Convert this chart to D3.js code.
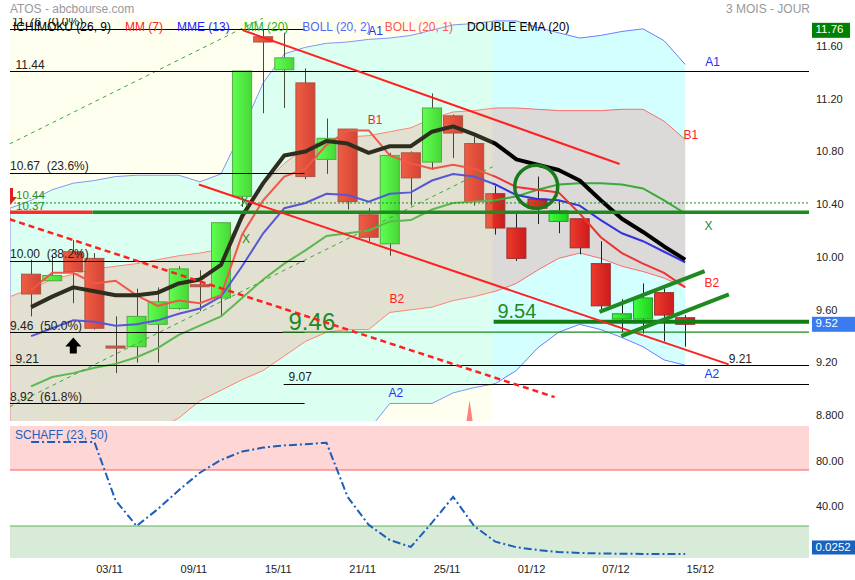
<!DOCTYPE html>
<html><head><meta charset="utf-8">
<script src="https://cdn.jsdelivr.net/npm/d3@7"></script>
<style>body{margin:0;background:#fff}svg{display:block;font-family:"Liberation Sans",Arial,sans-serif}</style>
</head><body><svg id="c" width="855" height="580"></svg>
<script>
// ---------- DATA ----------
const open  = [9.90,9.85,10.07,10.02,9.355,9.35,9.52,9.64,9.82,9.72,10.49,11.70,11.45,11.35,10.77,11.00,10.35,10.13,10.82,10.75,11.10,10.89,10.51,10.25,10.47,10.30,10.32,9.98,9.56,9.56,9.76,9.57];
const high  = [10.01,10.05,10.16,10.06,9.58,9.79,9.80,9.96,9.93,10.29,11.44,11.76,11.73,11.46,11.08,11.00,10.40,10.82,10.83,11.27,11.11,10.94,10.57,10.36,10.64,10.46,10.32,10.15,9.71,9.83,9.79,9.59];
const low   = [9.58,9.85,9.68,9.48,9.15,9.23,9.23,9.63,9.62,9.59,10.41,11.12,11.16,10.62,10.66,10.39,10.15,10.04,10.42,10.69,10.78,10.42,10.20,10.00,10.28,10.21,10.05,9.63,9.46,9.45,9.39,9.35];
const close = [9.75,9.89,9.92,9.49,9.35,9.58,9.69,9.94,9.805,10.29,11.44,11.66,11.54,10.64,10.93,10.45,10.18,10.80,10.63,11.16,10.97,10.45,10.25,10.02,10.40,10.38,10.10,9.66,9.60,9.72,9.59,9.52];
const mm7   = [9.78,9.91,9.91,9.83,9.85,9.74,9.66,9.70,9.68,9.74,10.20,10.46,10.64,10.70,10.88,10.99,10.99,10.80,10.74,10.70,10.73,10.70,10.64,10.56,10.54,10.52,10.36,10.18,10.06,9.98,9.91,9.80];
const mme13 = [9.43,9.49,9.55,9.54,9.51,9.52,9.55,9.60,9.64,9.73,9.96,10.21,10.40,10.44,10.51,10.50,10.45,10.51,10.52,10.61,10.66,10.64,10.58,10.50,10.47,10.46,10.42,10.31,10.21,10.15,10.07,9.99];
const mm20  = [9.05,9.12,9.15,9.19,9.22,9.27,9.34,9.44,9.51,9.58,9.72,9.86,9.98,10.08,10.19,10.21,10.23,10.30,10.31,10.39,10.44,10.45,10.46,10.49,10.54,10.58,10.59,10.59,10.58,10.55,10.46,10.36];
const dema20= [9.65,9.73,9.80,9.77,9.74,9.74,9.76,9.83,9.86,9.97,10.34,10.59,10.80,10.83,10.91,10.89,10.82,10.87,10.87,10.98,11.02,10.96,10.89,10.77,10.73,10.69,10.61,10.46,10.32,10.22,10.11,10.01];
// Bollinger bands: first value is the session before the first visible candle
const bollA1 = [10.40,10.46,10.54,10.59,10.61,10.64,10.65,10.65,10.65,10.60,10.66,10.99,11.35,11.57,11.62,11.65,11.66,11.68,11.69,11.71,11.75,11.79,11.80,11.82,11.82,11.77,11.73,11.69,11.71,11.74,11.76,11.67,11.49];
const bollA2 = [7.88,7.90,7.92,7.96,8.00,7.98,8.03,8.07,8.19,8.38,8.49,8.49,8.48,8.55,8.57,8.60,8.64,8.72,8.92,8.92,8.92,9.00,9.04,9.07,9.17,9.34,9.46,9.52,9.48,9.42,9.35,9.25,9.21];
const bollB1 = [9.73,9.79,9.86,9.90,9.94,9.96,9.98,10.01,10.04,10.06,10.09,10.31,10.58,10.74,10.86,10.92,10.94,10.95,10.98,11.01,11.08,11.13,11.14,11.16,11.16,11.15,11.14,11.14,11.14,11.15,11.15,11.06,10.92];
const bollB2 = [8.49,8.53,8.57,8.60,8.64,8.64,8.68,8.72,8.81,8.94,9.02,9.10,9.17,9.28,9.39,9.46,9.48,9.48,9.61,9.63,9.65,9.70,9.73,9.77,9.83,9.93,10.02,10.06,10.02,9.96,9.92,9.87,9.80];
const schaff = [100,100,100,100,48,25,40,57,72.6,84,91.5,95,97,98,99.4,51,26,12.5,6.3,28,51,25,11,6,3.6,1.8,0.9,0.5,0.2,0.1,0.05,0.0252];

const dateLabels = ["03/11","09/11","15/11","21/11","25/11","01/12","07/12","15/12"];
const dateIdx    = [4,8,12,16,20,24,28,32];
const priceTicks = [11.6,11.2,10.8,10.4,10.0,9.6,9.2,8.8];
const priceTickLabels = ["11.60","11.20","10.80","10.40","10.00","9.60","9.20","8.800"];
const schaffTicks = [80,40];
const schaffTickLabels = ["80.00","40.00"];
const schaffBands = [75,25];

const fibLevels = [11.76,10.67,10.00,9.46,8.92];
const fibPcts   = ["0.0%","23.6%","38.2%","50.0%","61.8%"];
const blackLevels = [11.44,9.21];
const supportLevel = 9.07;
const dottedLevel = 10.44;
const thickLevel = 10.37;
const greenThick = 9.54;
const greenThin = 9.46;
// trend lines: [startIndex, startPrice, endIndex, endPrice]
const redTrends = [[7.95,10.58,33.06,9.216],[10.02,11.75,27.89,10.735]];
const redDashed = [[-1.02,10.316,24.81,8.968]];
const greenDashed = [[-1.02,10.887,10.99,11.842],[-1.02,8.895,21.87,10.714]];
const greenTrends = [[26.94,9.615,31.92,9.924],[27.97,9.431,33.07,9.747]];
const circleAt = [23.94,10.563];
const ichimokuEnd = 21.87;
// band labels: [index, price, text]
const bandLabels = [[15.98,11.713,"A1"],[31.95,11.478,"A1"],[15.95,11.038,"B1"],[30.92,10.924,"B1"],
  [16.99,9.681,"B2"],[31.92,9.802,"B2"],[16.94,8.968,"A2"],[31.92,9.112,"A2"],
  [31.92,10.234,"X"],[9.99,10.136,"X"],[9.91,10.416,"X"]];
const legendNames = ["ICHIMOKU (26, 9)","MM (7)","MME (13)","MM (20)","BOLL (20, 2)","BOLL (20, 1)","DOUBLE EMA (20)"];

// ---------- SCALES ----------
const L=10, R=809, T=18, B=421, ST=426, SB=558;
const x = d3.scaleLinear().domain([-1,31]).range([10,685.2]);
const y = d3.scaleLinear().domain([8.787,11.842]).range([B,T]);
const ys = d3.scaleLinear().domain([-3.57,114.3]).range([SB,ST]);

const svg = d3.select('#c');
const defs = svg.append('defs');
defs.append('clipPath').attr('id','cm').append('rect').attr('x',L).attr('y',T).attr('width',R-L).attr('height',B-T);
defs.append('clipPath').attr('id','cs').append('rect').attr('x',L).attr('y',ST).attr('width',R-L).attr('height',SB-ST);
function grad(id,a,b){const g=defs.append('linearGradient').attr('id',id).attr('x1',0).attr('x2',1).attr('y1',0).attr('y2',0);
 g.append('stop').attr('offset',0).attr('stop-color',a);g.append('stop').attr('offset',1).attr('stop-color',b);}
grad('gUp','#3cff3c','#1fcf1f');grad('gDn','#ec3a2c','#cc1c1c');

// title
svg.append('text').attr('x',10).attr('y',13).attr('font-size',12).attr('fill','#999').text('ATOS - abcbourse.com');
svg.append('text').attr('x',810).attr('y',13).attr('text-anchor','end').attr('font-size',12).attr('fill','#999').text('3 MOIS - JOUR');

const main = svg.append('g').attr('clip-path','url(#cm)');
const bi = d3.range(-1,32);
const area = (a,b)=>d3.area().x((d,i)=>x(i-1)).y0((d,i)=>y(a[i])).y1((d,i)=>y(b[i]));
main.append('path').datum(bi).attr('d',area(bollA2,bollA1)).attr('fill','#d4ffff');
main.append('path').datum(bi).attr('d',area(bollB2,bollB1)).attr('fill','#dcd9d9');
const bline = arr=>d3.line().x((d,i)=>x(i-1)).y(d=>y(d))(arr);
main.append('path').attr('d',bline(bollA1)).attr('fill','none').attr('stroke','#6f7cff').attr('stroke-width',1);
main.append('path').attr('d',bline(bollA2)).attr('fill','none').attr('stroke','#6f7cff').attr('stroke-width',1);
main.append('path').attr('d',bline(bollB1)).attr('fill','none').attr('stroke','#ff6a6a').attr('stroke-width',1);
main.append('path').attr('d',bline(bollB2)).attr('fill','none').attr('stroke','#ff6a6a').attr('stroke-width',1);
main.append('line').attr('x1',x(-1)+0.5).attr('x2',x(-1)+0.5).attr('y1',y(bollA1[0])).attr('y2',y(bollB1[0])).attr('stroke','#aab4ff');
main.append('line').attr('x1',x(-1)+0.5).attr('x2',x(-1)+0.5).attr('y1',y(bollB1[0])).attr('y2',B).attr('stroke','#e6a0b4');

// candles
const ci = d3.range(32);
const cg = main.append('g');
ci.forEach(i=>{
  const up = close[i]>=open[i];
  cg.append('line').attr('x1',Math.round(x(i))+0.5).attr('x2',Math.round(x(i))+0.5).attr('y1',y(high[i])).attr('y2',y(low[i])).attr('stroke','#222').attr('stroke-width',1);
  const top=y(Math.max(open[i],close[i])), h=Math.max(2,Math.abs(y(open[i])-y(close[i])));
  cg.append('rect').attr('x',x(i)-9.5).attr('width',19).attr('y',top).attr('height',h)
    .attr('fill',up?'url(#gUp)':'url(#gDn)').attr('stroke',up?'#2b9a2b':'#9a2e2e').attr('stroke-width',1);
});
// moving averages
const ml = arr=>d3.line().x((d,i)=>x(i)).y(d=>y(d))(arr);
main.append('path').attr('d',ml(mm20)).attr('fill','none').attr('stroke','#3aaa3a').attr('stroke-width',2);
main.append('path').attr('d',ml(mme13)).attr('fill','none').attr('stroke','#3333dd').attr('stroke-width',2);
main.append('path').attr('d',ml(mm7)).attr('fill','none').attr('stroke','#ee3333').attr('stroke-width',2);
main.append('path').attr('d',ml(dema20)).attr('fill','none').attr('stroke','#000').attr('stroke-width',4).attr('stroke-linejoin','round');
// ichimoku tint
main.append('rect').attr('x',L).attr('y',T).attr('width',x(ichimokuEnd)-L).attr('height',B-T).attr('fill','#ffffaa').attr('opacity',0.18);
// dashed green channel
greenDashed.forEach(t=>main.append('line').attr('x1',x(t[0])).attr('y1',y(t[1])).attr('x2',x(t[2])).attr('y2',y(t[3])).attr('stroke','#3aa83a').attr('stroke-width',1).attr('stroke-dasharray','4,4'));

// horizontal levels
const fibEnd = x(12.96);
fibLevels.forEach((v,k)=>{
  main.append('line').attr('x1',L).attr('x2',fibEnd).attr('y1',Math.round(y(v))+0.5).attr('y2',Math.round(y(v))+0.5).attr('stroke','#000');
  main.append('text').attr('x',k==0?12:10).attr('y',y(v)-2.5).attr('font-size',12).attr('fill','#222').style('white-space','pre').text(v.toFixed(2)+'  ('+fibPcts[k]+')');
});
blackLevels.forEach(v=>{
  main.append('line').attr('x1',L).attr('x2',R).attr('y1',Math.round(y(v))+0.5).attr('y2',Math.round(y(v))+0.5).attr('stroke','#000');
  main.append('text').attr('x',15.5).attr('y',y(v)-2.5).attr('font-size',12).attr('fill','#222').text(v.toFixed(2));
});
main.append('line').attr('x1',x(11.97)).attr('x2',R).attr('y1',Math.round(y(supportLevel))+0.5).attr('y2',Math.round(y(supportLevel))+0.5).attr('stroke','#000');
main.append('text').attr('x',x(12.2)).attr('y',y(supportLevel)-2.5).attr('font-size',12).attr('fill','#222').text(supportLevel.toFixed(2));
main.append('line').attr('x1',L).attr('x2',R).attr('y1',y(dottedLevel)).attr('y2',y(dottedLevel)).attr('stroke','#1f8a1f').attr('stroke-dasharray','2,2');
main.append('text').attr('x',16).attr('y',y(dottedLevel)-4).attr('font-size',11.5).attr('fill','#2a8a2a').text(dottedLevel.toFixed(2));
main.append('text').attr('x',16).attr('y',y(thickLevel)-2.5).attr('font-size',11.5).attr('fill','#2a8a2a').text(thickLevel.toFixed(2));
main.append('line').attr('x1',L).attr('x2',x(2.91)).attr('y1',y(thickLevel)).attr('y2',y(thickLevel)).attr('stroke','#ff2a2a').attr('stroke-width',3.5);
main.append('line').attr('x1',x(2.91)).attr('x2',R).attr('y1',y(thickLevel)).attr('y2',y(thickLevel)).attr('stroke','#1f8a1f').attr('stroke-width',3.5);
main.append('line').attr('x1',x(11.92)).attr('x2',R).attr('y1',y(greenThin)).attr('y2',y(greenThin)).attr('stroke','#1a8a1a').attr('stroke-width',1.2);
main.append('text').attr('x',x(12.2)).attr('y',y(greenThin)-2).attr('font-size',24).attr('fill','#1f8a1f').text(greenThin.toFixed(2));
main.append('line').attr('x1',x(21.92)).attr('x2',R).attr('y1',y(greenThick)).attr('y2',y(greenThick)).attr('stroke','#127d12').attr('stroke-width',4);
main.append('text').attr('x',x(22.1)).attr('y',y(greenThick)-3.5).attr('font-size',20).attr('fill','#1f8a1f').text(greenThick.toFixed(2));
main.append('text').attr('x',x(33.06)).attr('y',y(blackLevels[1])-2.5).attr('font-size',12).attr('fill','#222').text(blackLevels[1].toFixed(2));

// trend lines
redTrends.forEach(t=>main.append('line').attr('x1',x(t[0])).attr('y1',y(t[1])).attr('x2',x(t[2])).attr('y2',y(t[3])).attr('stroke','#ff2020').attr('stroke-width',2));
redDashed.forEach(t=>main.append('line').attr('x1',x(t[0])).attr('y1',y(t[1])).attr('x2',x(t[2])).attr('y2',y(t[3])).attr('stroke','#ff2020').attr('stroke-width',2.5).attr('stroke-dasharray','6,4'));
greenTrends.forEach(t=>main.append('line').attr('x1',x(t[0])).attr('y1',y(t[1])).attr('x2',x(t[2])).attr('y2',y(t[3])).attr('stroke','#1f8a1f').attr('stroke-width',4));
main.append('circle').attr('cx',x(circleAt[0])).attr('cy',y(circleAt[1])).attr('r',21.5).attr('fill','none').attr('stroke','#1a7a1a').attr('stroke-width',3.5);
// band labels
bandLabels.forEach(b=>{
  const c = b[2][0]=='A'?'#2233ee':(b[2][0]=='B'?'#ff2222':'#2a8a2a');
  main.append('text').attr('x',x(b[0])).attr('y',y(b[1])).attr('font-size',12).attr('fill',c).text(b[2]);
});
// arrows
{const cx=x(2), ty=y(9.42);
 main.append('path').attr('d',`M${cx},${ty} L${cx+8},${ty+9} L${cx+3.5},${ty+9} L${cx+3.5},${ty+16} L${cx-3.5},${ty+16} L${cx-3.5},${ty+9} L${cx-8},${ty+9} Z`).attr('fill','#000');}
{const cx=x(-1), ty=y(10.553);
 main.append('path').attr('d',`M${cx-3},${ty} L${cx+3},${ty} L${cx+3},${ty+9} L${cx+7},${ty+9} L${cx},${ty+17} L${cx-7},${ty+9} L${cx-3},${ty+9} Z`).attr('fill','#e02020');}
{const cx=x(20.78), ty=y(8.946);
 main.append('path').attr('d',`M${cx},${ty} L${cx+3},${B} L${cx-3},${B} Z`).attr('fill','#ff8080');}

// legend
{let lx=13; const cols=['#000','#ff2222','#2222ff','#22b022','#5566ff','#ff5555','#000'];
 legendNames.forEach((n,k)=>{const t=svg.append('text').attr('x',lx).attr('y',31).attr('font-size',12).attr('fill',cols[k]).text(n);
  lx += t.node().getComputedTextLength()+14;});}

// right axis
priceTicks.forEach((v,k)=>svg.append('text').attr('x',816).attr('y',y(v)-3).attr('dominant-baseline','middle').attr('font-size',11).attr('fill','#222').text(priceTickLabels[k]));
function box(yc,txt,fill,w){svg.append('rect').attr('x',812).attr('y',yc-7.5).attr('width',w).attr('height',15).attr('fill',fill);
 svg.append('text').attr('x',815.5).attr('y',yc).attr('dominant-baseline','middle').attr('font-size',11.5).attr('fill','#fff').text(txt);}
box(y(d3.max(high))+1.5, d3.max(high).toFixed(2), '#008000', 38);
box(y(close[31]), close[31].toFixed(2), '#3a7cf0', 43);

// date axis
dateIdx.forEach((d,k)=>svg.append('text').attr('x',x(d)-6).attr('y',570).attr('text-anchor','middle').attr('dominant-baseline','middle').attr('font-size',11).attr('fill','#222').text(dateLabels[k]));

// schaff panel
const sp = svg.append('g').attr('clip-path','url(#cs)');
sp.append('rect').attr('x',L).attr('y',ST).attr('width',R-L).attr('height',ys(schaffBands[0])-ST).attr('fill','#ffd6d6');
sp.append('rect').attr('x',L).attr('y',ys(schaffBands[1])).attr('width',R-L).attr('height',SB-ys(schaffBands[1])).attr('fill','#d8ead8');
sp.append('line').attr('x1',L).attr('x2',R).attr('y1',ys(schaffBands[0])).attr('y2',ys(schaffBands[0])).attr('stroke','#ff5a5a');
sp.append('line').attr('x1',L).attr('x2',R).attr('y1',ys(schaffBands[1])).attr('y2',ys(schaffBands[1])).attr('stroke','#5aae5a');
sp.append('path').attr('d',d3.line().x((d,i)=>x(i)).y(d=>ys(d))(schaff)).attr('fill','none').attr('stroke','#1c5fb8').attr('stroke-width',2).attr('stroke-dasharray','8,3,2,3');
svg.append('text').attr('x',15).attr('y',438.5).attr('font-size',12).attr('fill','#1c5fc0').text('SCHAFF (23, 50)');
schaffTicks.forEach((v,k)=>svg.append('text').attr('x',816).attr('y',ys(v)-2).attr('dominant-baseline','middle').attr('font-size',11).attr('fill','#222').text(schaffTickLabels[k]));
{const v=schaff[31], yc=Math.min(ys(v),SB-11)+0.5;
 svg.append('rect').attr('x',812).attr('y',yc-7).attr('width',43).attr('height',14).attr('fill','#1565c0');
 svg.append('text').attr('x',815.5).attr('y',yc).attr('dominant-baseline','middle').attr('font-size',11.5).attr('fill','#fff').text(v.toFixed(4));}
</script></body></html>
